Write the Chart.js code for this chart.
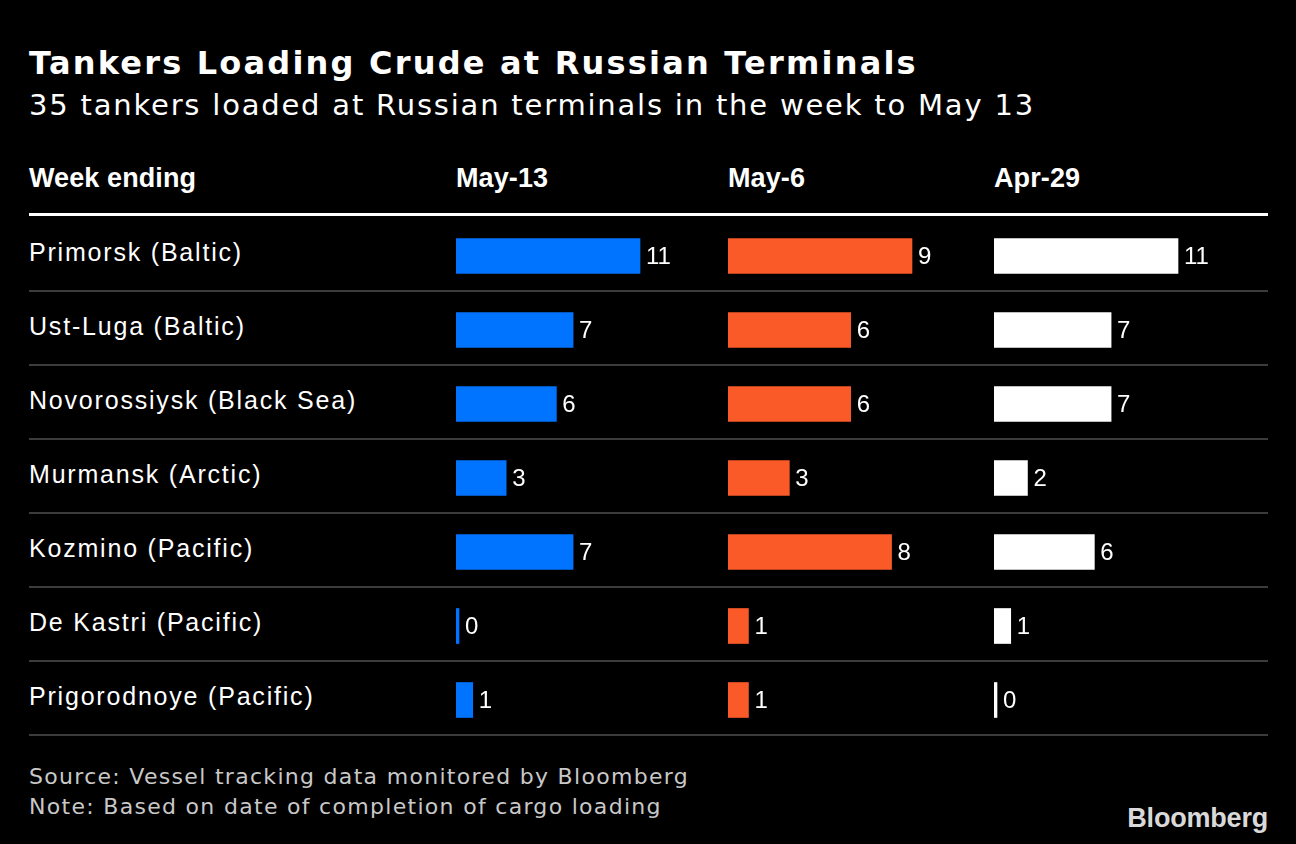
<!DOCTYPE HTML>
<html>
<head>
<title>Tankers Loading Crude at Russian Terminals</title>
<script src="https://cdn.jsdelivr.net/npm/chart.js"></script>
<style>
    body {
        margin: 0;
        background-color: #000000;
    }
    #page {
        position: relative;
        width: 1296px;
        height: 844px;
        background-color: #000000;
        overflow: hidden;
    }
    .txt {
        position: absolute;
        white-space: nowrap;
        line-height: 1;
        color: #ffffff;
    }
    .title {
        left: 29px; top: 47px;
        font-family: "DejaVu Sans", sans-serif;
        font-weight: bold;
        font-size: 32px;
        letter-spacing: 2.2px;
    }
    .subtitle {
        left: 29px; top: 91px;
        font-family: "DejaVu Sans", sans-serif;
        font-size: 29px;
        letter-spacing: 1.8px;
    }
    .head {
        top: 165px;
        font-family: "Liberation Sans", Arial, sans-serif;
        font-weight: bold;
        font-size: 27px;
        letter-spacing: 0.1px;
    }
    .rowlabel {
        left: 29px;
        font-family: "Liberation Sans", Arial, sans-serif;
        font-size: 25px;
        letter-spacing: 1.8px;
    }
    .foot {
        left: 29px;
        font-family: "DejaVu Sans", sans-serif;
        font-size: 22px;
        letter-spacing: 1.3px;
        color: #c8c8c8;
    }
    .logo {
        right: 28px; top: 805px;
        font-family: "Liberation Sans", Arial, sans-serif;
        font-weight: bold;
        font-size: 27px;
        letter-spacing: -0.2px;
        color: #d9d9d9;
    }
    .rule {
        position: absolute;
        left: 29px;
        width: 1239px;
    }
    canvas.col {
        position: absolute;
        top: 219px;
    }
</style>
</head>

<body>
<div id="page">
    <div class="txt title">Tankers Loading Crude at Russian Terminals</div>
    <div class="txt subtitle">35 tankers loaded at Russian terminals in the week to May 13</div>
    <div class="txt head" style="left:29px;">Week ending</div>
    <div class="rule" style="top:213px;height:3px;background:#ffffff;"></div>
    <div class="txt foot" style="top:766px;">Source: Vessel tracking data monitored by Bloomberg</div>
    <div class="txt foot" style="top:796px;">Note: Based on date of completion of cargo loading</div>
    <div class="txt logo">Bloomberg</div>
</div>

<script>

// data
var terminals = ["Primorsk (Baltic)", "Ust-Luga (Baltic)", "Novorossiysk (Black Sea)",
    "Murmansk (Arctic)", "Kozmino (Pacific)", "De Kastri (Pacific)", "Prigorodnoye (Pacific)"];
var weeks = ["May-13", "May-6", "Apr-29"];
var may13 = [11, 7, 6, 3, 7, 0, 1];
var may6 = [9, 6, 6, 3, 8, 1, 1];
var apr29 = [11, 7, 7, 2, 6, 1, 0];

var page = document.getElementById('page');
var rowH = 74;
var colLeft = [456, 728, 994];
var colColor = ['#0073ff', '#fa5a28', '#ffffff'];
var canvasW = 250;
var fullBar = 184;   // longest bar in each column, px

// row labels and separators
terminals.forEach(function (name, i) {
    var d = document.createElement('div');
    d.className = 'txt rowlabel';
    d.style.top = (240 + i * rowH) + 'px';
    d.textContent = name;
    page.appendChild(d);

    var r = document.createElement('div');
    r.className = 'rule';
    r.style.top = (290 + i * rowH) + 'px';
    r.style.height = '2px';
    r.style.background = '#3c3c3c';
    page.appendChild(r);
});

var valueLabels = {
    id: 'valueLabels',
    afterDatasetsDraw: function (chart) {
        var ctx = chart.ctx;
        var ds = chart.data.datasets[0];
        ctx.save();
        ctx.fillStyle = '#ffffff';
        ctx.font = '24px "Liberation Sans", Arial, sans-serif';
        ctx.textBaseline = 'middle';
        chart.getDatasetMeta(0).data.forEach(function (bar, i) {
            ctx.fillText(String(ds.data[i]), bar.x + 6, bar.y + 1);
        });
        ctx.restore();
    }
};

[may13, may6, apr29].forEach(function (values, c) {
    var head = document.createElement('div');
    head.className = 'txt head';
    head.style.left = colLeft[c] + 'px';
    head.textContent = weeks[c];
    page.appendChild(head);

    var cv = document.createElement('canvas');
    cv.className = 'col';
    cv.width = canvasW;
    cv.height = rowH * terminals.length;
    cv.style.left = colLeft[c] + 'px';
    cv.style.width = canvasW + 'px';
    cv.style.height = (rowH * terminals.length) + 'px';
    page.appendChild(cv);

    var maxVal = Math.max.apply(null, values);

    new Chart(cv.getContext('2d'), {
        type: 'bar',
        data: {
            labels: terminals,
            datasets: [{
                data: values,
                backgroundColor: colColor[c],
                borderWidth: 0,
                barThickness: 35,
                minBarLength: 3
            }]
        },
        options: {
            indexAxis: 'y',
            responsive: false,
            animation: false,
            layout: { padding: 0 },
            plugins: {
                legend: { display: false },
                tooltip: { enabled: false }
            },
            scales: {
                x: { display: false, min: 0, max: maxVal * canvasW / fullBar },
                y: { display: false }
            }
        },
        plugins: [valueLabels]
    });
});

</script>
</body>
</html>
